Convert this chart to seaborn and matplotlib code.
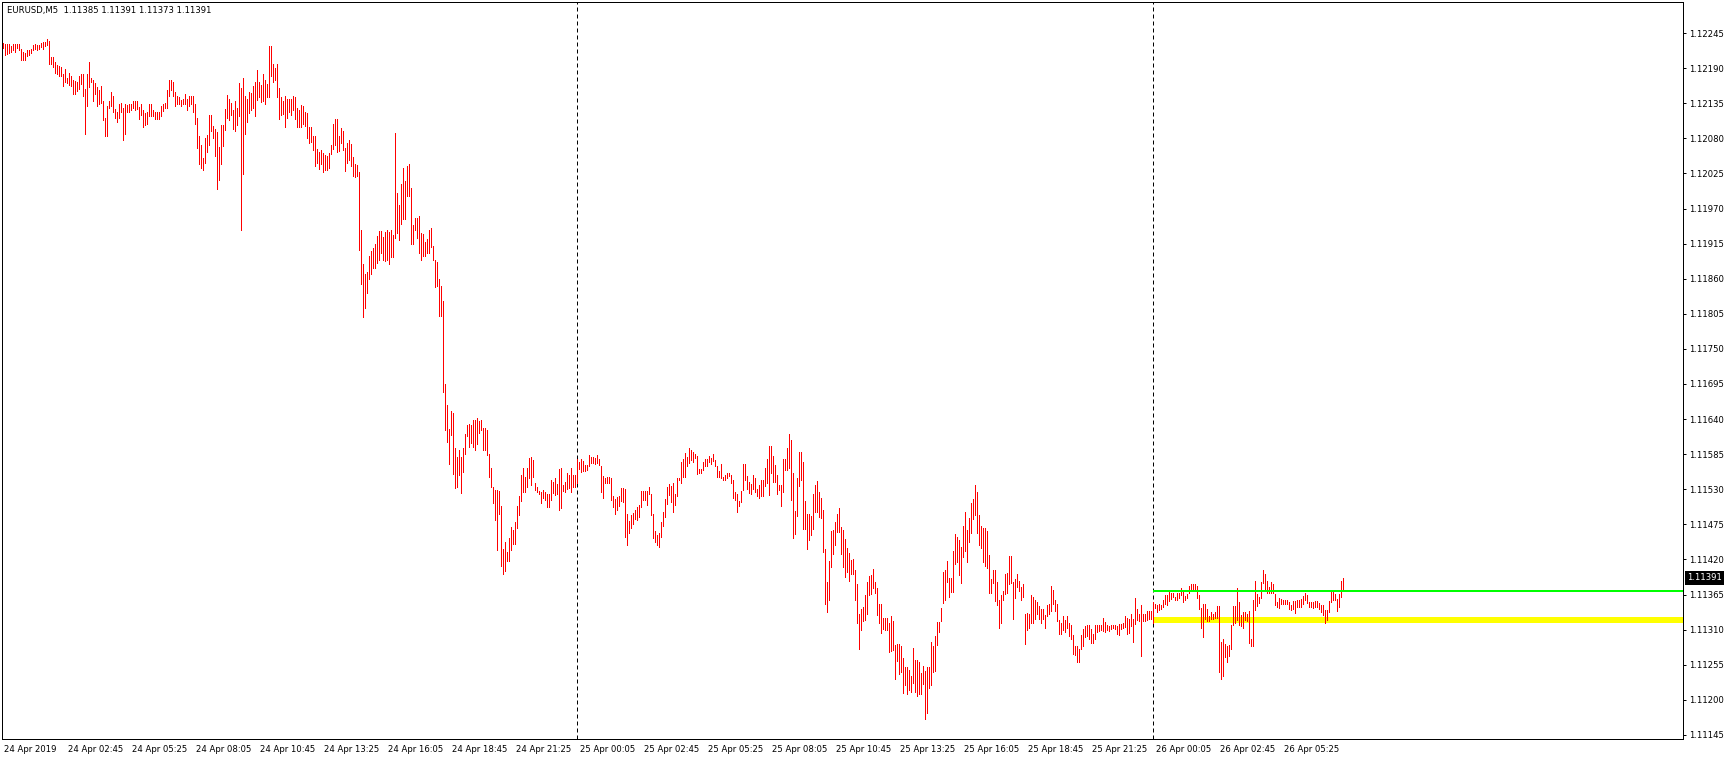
import numpy as np
import pandas as pd
import matplotlib
matplotlib.use("Agg")
import matplotlib.pyplot as plt
import matplotlib.transforms as mtransforms
import seaborn as sns

# ---- Data: M5 bars, prices in points above 1.10000 ----
symbol = "EURUSD,M5"
last_ohlc = [1.11385, 1.11391, 1.11373, 1.11391]

high_pts = [
    2230, 2228, 2228, 2228, 2225, 2228, 2228, 2228, 2228, 2220,
    2216, 2213, 2219, 2219, 2220, 2226, 2228, 2226, 2227, 2229,
    2231, 2231, 2235, 2233, 2207, 2207, 2200, 2195, 2193, 2192,
    2181, 2188, 2174, 2182, 2178, 2172, 2170, 2168, 2178, 2181,
    2181, 2157, 2181, 2200, 2175, 2171, 2166, 2161, 2156, 2162,
    2139, 2112, 2131, 2138, 2153, 2147, 2126, 2122, 2134, 2136,
    2128, 2134, 2132, 2134, 2134, 2139, 2139, 2138, 2129, 2134,
    2124, 2120, 2121, 2133, 2134, 2125, 2122, 2122, 2122, 2131,
    2134, 2136, 2156, 2172, 2172, 2169, 2152, 2147, 2145, 2140,
    2141, 2150, 2142, 2146, 2147, 2147, 2133, 2112, 2084, 2070,
    2049, 2081, 2085, 2117, 2117, 2100, 2095, 2090, 2067, 2101,
    2101, 2126, 2148, 2142, 2136, 2125, 2139, 2128, 2166, 2159,
    2175, 2146, 2142, 2152, 2151, 2162, 2169, 2187, 2169, 2164,
    2181, 2172, 2165, 2225, 2225, 2196, 2190, 2196, 2159, 2144,
    2139, 2146, 2142, 2141, 2141, 2146, 2144, 2128, 2124, 2132,
    2131, 2122, 2120, 2098, 2098, 2084, 2084, 2063, 2058, 2062,
    2057, 2054, 2052, 2057, 2069, 2103, 2110, 2110, 2084, 2096,
    2092, 2065, 2072, 2077, 2071, 2051, 2039, 2038, 2027, 1937,
    1883, 1868, 1870, 1895, 1903, 1908, 1914, 1927, 1934, 1934,
    1926, 1933, 1936, 1933, 1936, 1928, 2088, 1995, 1976, 2008,
    2034, 2013, 2037, 2040, 2002, 1944, 1955, 1955, 1958, 1931,
    1930, 1918, 1922, 1936, 1940, 1911, 1890, 1886, 1859, 1849,
    1825, 1695, 1662, 1624, 1652, 1649, 1594, 1580, 1592, 1580,
    1594, 1617, 1631, 1632, 1630, 1639, 1639, 1641, 1637, 1639,
    1626, 1626, 1623, 1585, 1563, 1534, 1529, 1529, 1528, 1504,
    1437, 1448, 1431, 1454, 1471, 1466, 1479, 1504, 1520, 1552,
    1564, 1549, 1564, 1579, 1580, 1576, 1540, 1533, 1528, 1525,
    1529, 1525, 1522, 1522, 1545, 1542, 1547, 1538, 1562, 1563,
    1536, 1541, 1555, 1552, 1564, 1552, 1553, 1578, 1573, 1577,
    1575, 1568, 1568, 1584, 1581, 1581, 1579, 1583, 1578, 1567,
    1551, 1548, 1550, 1549, 1547, 1519, 1515, 1518, 1519, 1532,
    1532, 1530, 1492, 1480, 1489, 1493, 1498, 1503, 1506, 1527,
    1528, 1528, 1528, 1534, 1522, 1492, 1465, 1458, 1461, 1478,
    1494, 1515, 1534, 1538, 1535, 1540, 1523, 1548, 1548, 1573,
    1578, 1587, 1580, 1594, 1591, 1589, 1586, 1582, 1562, 1562,
    1573, 1578, 1578, 1582, 1579, 1585, 1576, 1566, 1558, 1570,
    1550, 1552, 1556, 1556, 1553, 1545, 1526, 1522, 1512, 1528,
    1569, 1569, 1551, 1542, 1538, 1552, 1547, 1530, 1536, 1545,
    1545, 1563, 1578, 1598, 1598, 1582, 1568, 1552, 1537, 1536,
    1578, 1578, 1595, 1616, 1607, 1556, 1496, 1548, 1589, 1589,
    1572, 1512, 1491, 1491, 1488, 1523, 1536, 1543, 1526, 1516,
    1498, 1437, 1384, 1417, 1465, 1466, 1479, 1491, 1500, 1471,
    1466, 1452, 1438, 1430, 1419, 1421, 1404, 1382, 1334, 1342,
    1346, 1364, 1385, 1394, 1396, 1405, 1385, 1376, 1350, 1350,
    1329, 1329, 1329, 1321, 1332, 1324, 1286, 1288, 1288, 1285,
    1266, 1252, 1252, 1247, 1237, 1282, 1263, 1263, 1259, 1242,
    1253, 1245, 1252, 1251, 1290, 1285, 1300, 1322, 1322, 1344,
    1400, 1403, 1417, 1391, 1391, 1434, 1460, 1456, 1451, 1440,
    1472, 1495, 1466, 1485, 1509, 1515, 1537, 1526, 1489, 1472,
    1469, 1469, 1465, 1427, 1390, 1404, 1404, 1385, 1357, 1365,
    1371, 1397, 1399, 1425, 1425, 1385, 1390, 1398, 1386, 1377,
    1382, 1335, 1336, 1334, 1364, 1362, 1357, 1353, 1347, 1342,
    1342, 1333, 1349, 1350, 1379, 1372, 1357, 1351, 1325, 1320,
    1331, 1325, 1332, 1321, 1317, 1302, 1285, 1285, 1279, 1302,
    1311, 1316, 1317, 1318, 1311, 1303, 1317, 1318, 1318, 1318,
    1328, 1322, 1317, 1316, 1318, 1318, 1317, 1315, 1319, 1319,
    1321, 1331, 1328, 1326, 1335, 1327, 1359, 1343, 1335, 1348,
    1335, 1335, 1339, 1339, 1340, 1353, 1351, 1348, 1351, 1349,
    1356, 1364, 1364, 1369, 1368, 1368, 1361, 1367, 1367, 1375,
    1370, 1363, 1366, 1379, 1382, 1382, 1382, 1379, 1364, 1344,
    1350, 1350, 1343, 1331, 1337, 1335, 1337, 1347, 1347, 1291,
    1295, 1287, 1285, 1286, 1318, 1347, 1347, 1375, 1353, 1333,
    1338, 1338, 1335, 1339, 1296, 1357, 1387, 1366, 1362, 1385,
    1404, 1397, 1386, 1377, 1385, 1381, 1366, 1353, 1360, 1358,
    1357, 1357, 1357, 1353, 1348, 1355, 1355, 1356, 1356, 1358,
    1363, 1368, 1365, 1353, 1353, 1353, 1355, 1355, 1352, 1348,
    1348, 1341, 1341, 1355, 1369, 1372, 1366, 1358, 1366, 1386,
    1391,
]

low_pts = [
    2221, 2211, 2212, 2213, 2216, 2218, 2215, 2221, 2218, 2203,
    2203, 2203, 2209, 2210, 2213, 2219, 2220, 2219, 2220, 2223,
    2220, 2224, 2227, 2196, 2196, 2192, 2183, 2181, 2178, 2177,
    2162, 2168, 2166, 2163, 2162, 2149, 2149, 2154, 2158, 2165,
    2146, 2087, 2130, 2161, 2168, 2139, 2149, 2131, 2133, 2136,
    2109, 2083, 2084, 2127, 2131, 2121, 2112, 2105, 2112, 2121,
    2077, 2087, 2121, 2121, 2124, 2128, 2125, 2126, 2111, 2117,
    2097, 2101, 2102, 2115, 2115, 2115, 2111, 2111, 2111, 2115,
    2123, 2127, 2127, 2146, 2156, 2146, 2131, 2134, 2134, 2131,
    2133, 2134, 2125, 2130, 2134, 2122, 2102, 2065, 2040, 2033,
    2030, 2042, 2059, 2070, 2092, 2080, 2053, 2000, 2014, 2040,
    2068, 2093, 2112, 2108, 2117, 2095, 2091, 2101, 2115, 1937,
    2024, 2087, 2105, 2120, 2124, 2128, 2115, 2140, 2144, 2137,
    2139, 2133, 2144, 2145, 2177, 2169, 2172, 2144, 2111, 2117,
    2118, 2097, 2112, 2121, 2117, 2124, 2110, 2098, 2098, 2098,
    2103, 2099, 2081, 2073, 2074, 2061, 2037, 2041, 2032, 2039,
    2027, 2031, 2030, 2034, 2056, 2063, 2069, 2059, 2060, 2072,
    2061, 2029, 2042, 2046, 2036, 2021, 2019, 2021, 1905, 1851,
    1800, 1814, 1838, 1860, 1867, 1876, 1877, 1885, 1889, 1900,
    1889, 1888, 1889, 1883, 1894, 1894, 1923, 1931, 1921, 1945,
    1954, 1954, 1989, 1990, 1914, 1914, 1936, 1924, 1901, 1889,
    1895, 1896, 1901, 1901, 1910, 1890, 1847, 1848, 1801, 1801,
    1683, 1623, 1604, 1569, 1615, 1554, 1532, 1533, 1553, 1524,
    1557, 1586, 1613, 1597, 1602, 1597, 1591, 1601, 1618, 1623,
    1591, 1591, 1584, 1550, 1534, 1508, 1482, 1435, 1491, 1410,
    1398, 1402, 1417, 1417, 1435, 1444, 1444, 1469, 1489, 1511,
    1526, 1525, 1534, 1548, 1536, 1550, 1529, 1525, 1522, 1509,
    1516, 1514, 1502, 1502, 1514, 1524, 1521, 1522, 1497, 1501,
    1528, 1525, 1531, 1532, 1525, 1534, 1534, 1540, 1562, 1557,
    1559, 1559, 1560, 1566, 1571, 1571, 1569, 1571, 1568, 1526,
    1517, 1540, 1540, 1540, 1513, 1502, 1491, 1497, 1504, 1512,
    1510, 1456, 1442, 1461, 1469, 1475, 1484, 1482, 1486, 1503,
    1513, 1514, 1505, 1522, 1489, 1454, 1448, 1443, 1439, 1455,
    1472, 1487, 1507, 1521, 1510, 1494, 1506, 1519, 1545, 1540,
    1550, 1550, 1566, 1571, 1576, 1572, 1579, 1554, 1555, 1556,
    1560, 1566, 1566, 1572, 1569, 1575, 1566, 1550, 1550, 1547,
    1544, 1544, 1547, 1551, 1540, 1516, 1513, 1495, 1504, 1510,
    1529, 1544, 1530, 1524, 1522, 1530, 1526, 1519, 1516, 1519,
    1519, 1535, 1540, 1521, 1556, 1541, 1541, 1522, 1529, 1504,
    1526, 1561, 1560, 1564, 1513, 1454, 1460, 1488, 1535, 1544,
    1468, 1468, 1437, 1451, 1459, 1467, 1494, 1494, 1487, 1485,
    1431, 1351, 1338, 1357, 1409, 1428, 1442, 1463, 1463, 1428,
    1409, 1393, 1401, 1387, 1398, 1398, 1356, 1320, 1280, 1310,
    1324, 1325, 1334, 1365, 1366, 1376, 1367, 1333, 1321, 1305,
    1311, 1310, 1310, 1275, 1277, 1278, 1233, 1261, 1240, 1243,
    1211, 1224, 1209, 1216, 1213, 1226, 1212, 1206, 1209, 1209,
    1225, 1170, 1180, 1219, 1224, 1244, 1246, 1286, 1306, 1324,
    1352, 1357, 1384, 1362, 1369, 1369, 1413, 1416, 1396, 1383,
    1424, 1434, 1416, 1447, 1461, 1483, 1489, 1461, 1443, 1438,
    1416, 1410, 1406, 1367, 1367, 1383, 1355, 1348, 1313, 1321,
    1356, 1366, 1367, 1381, 1383, 1327, 1360, 1377, 1371, 1356,
    1362, 1287, 1310, 1313, 1321, 1321, 1326, 1335, 1326, 1321,
    1327, 1313, 1331, 1334, 1339, 1351, 1339, 1323, 1304, 1303,
    1310, 1306, 1312, 1300, 1296, 1272, 1270, 1260, 1260, 1279,
    1285, 1299, 1300, 1295, 1289, 1289, 1296, 1306, 1308, 1309,
    1308, 1306, 1310, 1308, 1311, 1312, 1311, 1304, 1302, 1311,
    1312, 1314, 1303, 1305, 1315, 1291, 1319, 1325, 1324, 1269,
    1323, 1324, 1325, 1326, 1327, 1320, 1344, 1338, 1341, 1343,
    1346, 1351, 1348, 1355, 1358, 1361, 1356, 1356, 1360, 1365,
    1353, 1356, 1360, 1367, 1370, 1371, 1371, 1360, 1343, 1312,
    1298, 1327, 1324, 1324, 1327, 1327, 1329, 1328, 1244, 1232,
    1238, 1267, 1260, 1269, 1280, 1317, 1321, 1325, 1318, 1316,
    1312, 1325, 1323, 1289, 1284, 1284, 1341, 1347, 1352, 1359,
    1383, 1374, 1368, 1368, 1368, 1367, 1348, 1345, 1344, 1351,
    1350, 1350, 1350, 1342, 1341, 1342, 1336, 1346, 1346, 1346,
    1351, 1356, 1352, 1345, 1345, 1344, 1345, 1346, 1342, 1338,
    1333, 1321, 1325, 1338, 1353, 1357, 1357, 1340, 1346, 1362,
    1373,
]

chart_start = pd.Timestamp("2019-04-24 00:00")
first_bar = pd.Timestamp("2019-04-24 00:05")
day_breaks = ["2019-04-25 00:00", "2019-04-26 00:00"]

tick_times = [
    "2019-04-24 00:00", "2019-04-24 02:45", "2019-04-24 05:25", "2019-04-24 08:05",
    "2019-04-24 10:45", "2019-04-24 13:25", "2019-04-24 16:05", "2019-04-24 18:45",
    "2019-04-24 21:25", "2019-04-25 00:05", "2019-04-25 02:45", "2019-04-25 05:25",
    "2019-04-25 08:05", "2019-04-25 10:45", "2019-04-25 13:25", "2019-04-25 16:05",
    "2019-04-25 18:45", "2019-04-25 21:25", "2019-04-26 00:05", "2019-04-26 02:45",
    "2019-04-26 05:25",
]
tick_labels = [
    "24 Apr 2019", "24 Apr 02:45", "24 Apr 05:25", "24 Apr 08:05", "24 Apr 10:45",
    "24 Apr 13:25", "24 Apr 16:05", "24 Apr 18:45", "24 Apr 21:25", "25 Apr 00:05",
    "25 Apr 02:45", "25 Apr 05:25", "25 Apr 08:05", "25 Apr 10:45", "25 Apr 13:25",
    "25 Apr 16:05", "25 Apr 18:45", "25 Apr 21:25", "26 Apr 00:05", "26 Apr 02:45",
    "26 Apr 05:25",
]
price_ticks = [
    1.11145, 1.11200, 1.11255, 1.11310, 1.11365, 1.11420, 1.11475, 1.11530,
    1.11585, 1.11640, 1.11695, 1.11750, 1.11805, 1.11860, 1.11915, 1.11970,
    1.12025, 1.12080, 1.12135, 1.12190, 1.12245,
]

level_start = "2019-04-26 00:00"
green_level = 1.11370
yellow_level = 1.11325

# ---- Build table ----
step = pd.Timedelta("5min")
bars = pd.DataFrame({
    "time": pd.date_range(first_bar, periods=len(high_pts), freq="5min"),
    "high": 1.10 + np.array(high_pts) / 1e5,
    "low": 1.10 + np.array(low_pts) / 1e5,
})
bars["slot"] = (bars["time"] - chart_start) / step

def to_slot(t):
    return (pd.Timestamp(t) - chart_start) / step

# ---- Figure ----
sns.set_style("white")
plt.rcParams["font.family"] = ["DejaVu Sans"]
W, H = 1729, 760
fig = plt.figure(figsize=(W / 100, H / 100), dpi=100)
ax = fig.add_axes([2 / W, 1 - 739 / H, 1681 / W, 737 / H])

x_left, x_right = 0.5, 841
ax.set_xlim(x_left, x_right)
ax.set_ylim(1.111387, 1.122936)

px = 0.72  # one pixel in points
fs = 6.1

for d in day_breaks:
    ax.axvline(to_slot(d), color="black", lw=px, ls=(0, (4, 3)), zorder=1)

ax.hlines(yellow_level, to_slot(level_start), x_right, color="#ffff00", lw=6 * px, zorder=2)

ax.vlines(bars["slot"], bars["low"], bars["high"], colors="#ff0000", lw=px,
          antialiased=False, zorder=3)

ax.hlines(green_level, to_slot(level_start), x_right, color="#00ff00", lw=2 * px, zorder=4)

# ---- Axes styling ----
for s in ax.spines.values():
    s.set_linewidth(px)
    s.set_color("black")

tick_pos = [max(to_slot(t), x_left) for t in tick_times]
ax.set_xticks(tick_pos)
ax.set_xticklabels(tick_labels)
ax.set_yticks(price_ticks)
ax.set_yticklabels([f"{p:.5f}" for p in price_ticks])
ax.yaxis.tick_right()
ax.tick_params(axis="both", direction="out", length=3 * px, width=px, colors="black",
               labelsize=fs, pad=2)
ax.tick_params(axis="x", pad=2)
shift = mtransforms.ScaledTranslation(1.5 / 100, 0, fig.dpi_scale_trans)
for lab in ax.get_xticklabels():
    lab.set_horizontalalignment("left")
    lab.set_transform(lab.get_transform() + shift)

# current price box
ax.text(1 + 4 / 1681, last_ohlc[3], f"{last_ohlc[3]:.5f}",
        transform=mtransforms.blended_transform_factory(ax.transAxes, ax.transData),
        ha="left", va="center", fontsize=fs, color="white",
        bbox=dict(boxstyle="square,pad=0.28", fc="black", ec="none"), clip_on=False)

header = symbol + "  " + " ".join(f"{v:.5f}" for v in last_ohlc)
fig.text(7 / W, 1 - 11 / H, header, fontsize=fs, va="center", ha="left", color="black")

fig.savefig("out.png", dpi=100)
